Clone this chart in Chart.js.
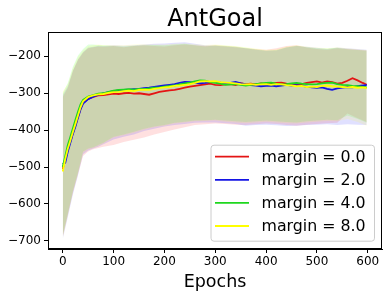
<!DOCTYPE html>
<html><head><meta charset="utf-8">
<script src="https://cdn.jsdelivr.net/npm/chart.js@4.4.1/dist/chart.umd.min.js"></script>
<style>html,body{margin:0;padding:0;background:#fff}#wrap{width:392px;height:298px}</style>
</head><body><div id="wrap"><canvas id="c" width="392" height="298"></canvas></div>
<script>
const chartTitle = 'AntGoal';
const xTitle = 'Epochs';
const seriesNames = ['margin = 0.0', 'margin = 2.0', 'margin = 4.0', 'margin = 8.0'];
const seriesColors = ['rgb(228,20,20)', 'rgb(20,20,228)', 'rgb(30,215,30)', 'rgb(255,255,0)'];
const bandColors = ['rgba(255,0,0,0.12)', 'rgba(0,0,255,0.12)', 'rgba(0,255,0,0.12)', 'rgba(255,255,0,0.12)'];
const xTicks = [0, 100, 200, 300, 400, 500, 600];
const yTicks = [-700, -600, -500, -400, -300, -200];

const epochs = [0,5,10,15,20,25,30,35,40,50,60,70,80,90,100,110,120,130,140,150,160,170,180,190,200,210,220,230,240,250,260,270,280,290,300,310,320,330,340,350,360,370,380,390,400,410,420,430,440,450,460,470,480,490,500,510,520,530,540,550,560,570,580,590,598];
const meanRed = [-505,-480,-452,-430,-408,-386,-364,-342,-326,-315,-310,-306,-305,-303,-301,-302,-300,-299,-301,-300,-302,-304,-300,-296,-294,-292,-291,-288,-285,-282,-280,-278,-276,-274,-277,-278,-276,-275,-278,-273,-275,-274,-276,-273,-275,-274,-272,-271,-274,-276,-277,-275,-272,-270,-268,-271,-268,-270,-274,-272,-266,-259,-265,-272,-277];
const meanBlue = [-492,-488,-458,-434,-410,-390,-366,-344,-328,-316,-309,-304,-300,-297,-294,-292,-291,-290,-289,-288,-286,-285,-283,-281,-279,-277,-275,-272,-269,-270,-272,-273,-272,-270,-269,-271,-274,-272,-269,-273,-276,-278,-279,-281,-280,-279,-281,-279,-277,-279,-278,-280,-282,-284,-285,-284,-288,-291,-287,-285,-283,-284,-281,-279,-277];
const meanGreen = [-500,-470,-440,-418,-395,-372,-350,-330,-318,-309,-305,-301,-300,-296,-293,-291,-290,-289,-290,-288,-289,-287,-285,-284,-282,-280,-279,-276,-273,-271,-268,-265,-266,-270,-272,-274,-277,-276,-275,-277,-279,-277,-275,-273,-272,-271,-274,-276,-275,-273,-272,-274,-275,-276,-275,-273,-272,-271,-275,-277,-278,-280,-281,-283,-284];
const meanYellow = [-512,-478,-450,-428,-405,-383,-360,-338,-322,-310,-306,-303,-302,-299,-297,-296,-294,-293,-294,-291,-290,-291,-288,-286,-284,-283,-280,-279,-277,-275,-272,-268,-267,-268,-267,-270,-271,-272,-273,-275,-276,-275,-277,-276,-275,-277,-275,-276,-278,-279,-281,-280,-283,-282,-283,-280,-279,-281,-282,-283,-284,-283,-285,-284,-286];

const bandEpochs = [0,10,20,30,40,50,60,70,80,100,120,140,160,180,200,220,240,260,280,300,320,340,360,380,400,420,440,460,480,500,520,540,560,580,598];
const upperRed = [-310,-285,-240,-210,-190,-178,-175,-173,-174,-172,-175,-172,-170,-172,-173,-170,-168,-170,-172,-170,-172,-174,-178,-180,-182,-178,-172,-170,-176,-180,-182,-178,-180,-182,-184];
const upperBlue = [-305,-280,-238,-208,-188,-176,-174,-171,-172,-170,-171,-170,-168,-166,-165,-163,-162,-166,-170,-171,-173,-175,-178,-182,-185,-184,-176,-172,-174,-177,-180,-176,-178,-180,-182];
const upperGreen = [-300,-272,-228,-198,-180,-168,-168,-169,-170,-172,-173,-171,-170,-169,-170,-168,-166,-170,-173,-170,-171,-173,-177,-181,-184,-183,-175,-171,-175,-178,-179,-177,-181,-183,-185];
const upperYellow = [-295,-275,-232,-202,-184,-172,-170,-168,-170,-169,-170,-168,-167,-168,-168,-166,-165,-167,-169,-168,-170,-172,-175,-179,-182,-181,-173,-170,-173,-176,-178,-175,-178,-181,-183];
const lowerRed = [-690,-630,-570,-520,-470,-458,-452,-448,-445,-440,-432,-426,-420,-412,-405,-398,-392,-386,-384,-382,-383,-385,-386,-384,-382,-383,-386,-388,-385,-383,-381,-380,-355,-368,-378];
const lowerBlue = [-695,-636,-574,-523,-465,-455,-450,-445,-438,-425,-418,-412,-402,-396,-390,-386,-383,-380,-379,-379,-381,-383,-388,-386,-385,-387,-389,-388,-386,-385,-384,-386,-384,-385,-386];
const lowerGreen = [-685,-626,-565,-515,-458,-450,-446,-440,-434,-418,-412,-404,-396,-390,-386,-380,-377,-374,-373,-372,-374,-376,-378,-376,-374,-376,-378,-379,-376,-374,-372,-373,-360,-370,-380];
const lowerYellow = [-692,-632,-568,-518,-462,-452,-448,-443,-436,-420,-414,-407,-399,-392,-388,-382,-379,-376,-375,-374,-377,-379,-381,-379,-377,-379,-381,-382,-379,-377,-375,-376,-370,-378,-388];

const means = [meanRed, meanBlue, meanGreen, meanYellow];
const uppers = [upperRed, upperBlue, upperGreen, upperYellow];
const lowers = [lowerRed, lowerBlue, lowerGreen, lowerYellow];

const FONT = 'DejaVu Sans';
const pts = (xs, ys) => xs.map((x, i) => ({x: x, y: ys[i]}));

const datasets = [];
// lines first (index 0 drawn on top): yellow, green, blue, red
for (let s = 3; s >= 0; s--) {
  datasets.push({label: seriesNames[s], data: pts(epochs, means[s]), borderColor: seriesColors[s],
    borderWidth: 1.8, pointRadius: 0, fill: false, tension: 0});
}
for (let s = 3; s >= 0; s--) {
  datasets.push({label: 'lo' + s, data: pts(bandEpochs, lowers[s]), borderColor: 'transparent',
    borderWidth: 0, pointRadius: 0, fill: false});
  datasets.push({label: 'hi' + s, data: pts(bandEpochs, uppers[s]), borderColor: 'transparent',
    borderWidth: 0, pointRadius: 0, fill: '-1', backgroundColor: bandColors[s]});
}

const framePlugin = {
  id: 'frame',
  afterDraw(chart) {
    const {ctx, chartArea: a} = chart;
    ctx.save();
    ctx.strokeStyle = '#000'; ctx.lineWidth = 1;
    const l = Math.round(a.left) + 0.5, r = Math.round(a.right) - 0.5;
    const t = Math.round(a.top) + 0.5, b = Math.round(a.bottom) - 0.5;
    ctx.strokeRect(l, t, r - l, b - t);
    // title
    ctx.fillStyle = '#000';
    ctx.font = '24px "' + FONT + '"';
    ctx.textAlign = 'center'; ctx.textBaseline = 'alphabetic';
    ctx.fillText(chartTitle, (a.left + a.right) / 2, 26);
    // legend
    const bw = 163.5, bh = 96, bx = a.right - 8 - bw, by = a.bottom - 8.3 - bh;
    ctx.beginPath();
    if (ctx.roundRect) ctx.roundRect(bx + 0.5, by + 0.5, bw, bh, 3); else ctx.rect(bx + 0.5, by + 0.5, bw, bh);
    ctx.fillStyle = 'rgba(255,255,255,0.8)'; ctx.fill();
    ctx.strokeStyle = '#cccccc'; ctx.lineWidth = 1; ctx.stroke();
    ctx.font = '15.8px "' + FONT + '"';
    ctx.textAlign = 'left'; ctx.textBaseline = 'middle';
    for (let i = 0; i < 4; i++) {
      const y = by + 12 + 23.1 * i;
      ctx.strokeStyle = seriesColors[i]; ctx.lineWidth = 1.8;
      ctx.beginPath(); ctx.moveTo(bx + 4.5, y); ctx.lineTo(bx + 38.5, y); ctx.stroke();
      ctx.fillStyle = '#000';
      ctx.fillText(seriesNames[i], bx + 51, y + 1);
    }
    ctx.restore();
  }
};

const minusFmt = v => String(v).replace('-', '\u2212');

new Chart(document.getElementById('c'), {
  type: 'line',
  data: {datasets: datasets},
  plugins: [framePlugin],
  options: {
    responsive: false, animation: false, devicePixelRatio: 1,
    layout: {padding: {top: 32, right: 10, left: 0, bottom: 0}},
    plugins: {legend: {display: false}, title: {display: false}, tooltip: {enabled: false},
      filler: {propagate: false}},
    scales: {
      x: {type: 'linear', min: -29, max: 628,
        afterBuildTicks: sc => { sc.ticks = xTicks.map(v => ({value: v})); },
        afterFit: sc => { sc.height = 49; },
        ticks: {font: {family: FONT, size: 12}, color: '#000', maxRotation: 0, padding: 2, callback: minusFmt},
        grid: {drawOnChartArea: false, drawTicks: true, tickLength: 4, color: '#000', tickColor: '#000'},
        border: {display: true, color: '#000', width: 1},
        title: {display: true, text: xTitle, color: '#000', font: {family: FONT, size: 17.5}, padding: {top: 0, bottom: 5}}
      },
      y: {type: 'linear', min: -722, max: -134,
        afterBuildTicks: sc => { sc.ticks = yTicks.map(v => ({value: v})); },
        afterFit: sc => { sc.width = 48; },
        ticks: {font: {family: FONT, size: 12}, color: '#000', padding: 3, callback: minusFmt},
        grid: {drawOnChartArea: false, drawTicks: true, tickLength: 4, color: '#000', tickColor: '#000'},
        border: {display: true, color: '#000', width: 1}
      }
    }
  }
});
</script></body></html>
